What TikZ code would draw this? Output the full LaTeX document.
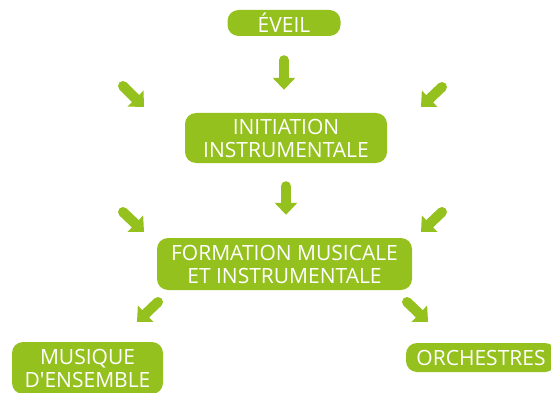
\documentclass[tikz,border=0pt]{standalone}
\usepackage{fontspec}
\setsansfont{Open Sans}[Ligatures=TeXOff]
\usepackage{tikz}
\usetikzlibrary{arrows.meta,positioning,calc}
\usepackage{xcolor}
\definecolor{stageCol}{RGB}{149,193,31}

\begin{document}
\begin{tikzpicture}[
  x=1pt, y=-1pt,
  every node/.style={font=\sffamily},
  stagebox/.style n args={2}{rounded corners=11pt, fill=stageCol, text=white,
    minimum width=#1, minimum height=#2, align=center, inner sep=0pt,
    font=\sffamily\fontsize{21}{23}\selectfont},
  bigarrow/.style={line width=10pt, color=stageCol, line cap=round,
    -{Triangle[length=12pt, width=22pt]}},
]
\useasboundingbox (0,0) rectangle (551,393);
\clip (0,0) rectangle (551,393);
% stages
\node[stagebox={113pt}{26pt}] (eveil) at (284, 23) {ÉVEIL};
\node[stagebox={202pt}{50pt}] (init) at (286, 138) {INITIATION\\INSTRUMENTALE};
\node[stagebox={255pt}{52pt}] (form) at (284.5, 264) {FORMATION MUSICALE\\ET INSTRUMENTALE};
\node[stagebox={151pt}{52pt}] (ens) at (87.5, 368) {MUSIQUE\\D'ENSEMBLE};
\node[stagebox={150pt}{29pt}] (orch) at (481, 357.5) {ORCHESTRES};
% down arrows
\draw[bigarrow, shorten <=24pt, shorten >=23pt] (eveil.south) -- (eveil.south |- init.north);
\draw[bigarrow, shorten <=23pt, shorten >=23pt] (init.south) -- (init.south |- form.north);
% side arrows, row 1
\coordinate (r1ls) at (123, 86);  \coordinate (r1le) at (144, 107);
\coordinate (r1rs) at (442, 87);  \coordinate (r1re) at (421, 107);
\draw[bigarrow] (r1ls) -- (r1le);
\draw[bigarrow] (r1rs) -- (r1re);
% side arrows, row 2
\coordinate (r2ls) at (123, 212); \coordinate (r2le) at (144, 232);
\coordinate (r2rs) at (442, 212); \coordinate (r2re) at (421, 232);
\draw[bigarrow] (r2ls) -- (r2le);
\draw[bigarrow] (r2rs) -- (r2re);
% arrows to the ensembles
\coordinate (r3ls) at (158, 302); \coordinate (r3le) at (137, 322);
\coordinate (r3rs) at (407, 302); \coordinate (r3re) at (428, 322);
\draw[bigarrow] (r3ls) -- (r3le);
\draw[bigarrow] (r3rs) -- (r3re);
\end{tikzpicture}
\end{document}
